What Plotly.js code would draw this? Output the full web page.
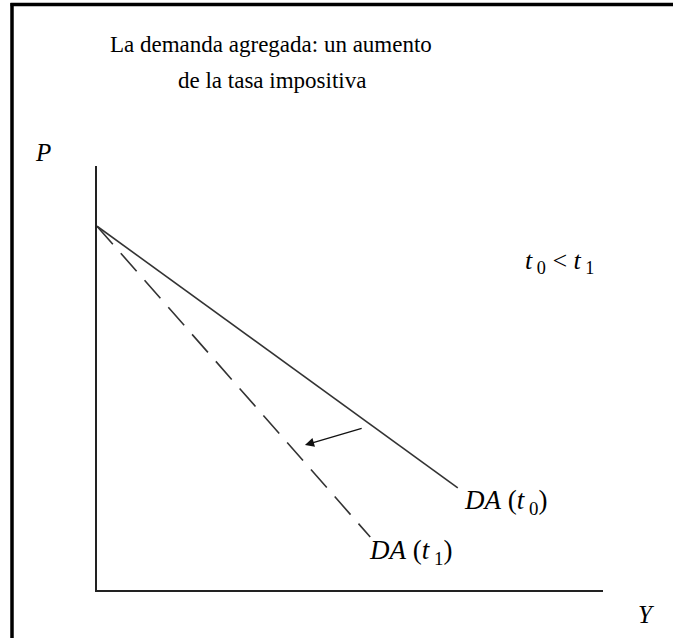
<!DOCTYPE html>
<html>
<head>
<meta charset="utf-8">
<script src="https://cdn.plot.ly/plotly-3.0.1.min.js"></script>
<style>html,body{margin:0;padding:0;background:#fff;}</style>
</head>
<body>
<div id="chart" style="width:673px;height:638px;"></div>
<script>
// Data (units on an arbitrary 0-100 scale)
const solidX = [0, 71.3];
const solidY = [85.8, 24.1];
const dashX = [0, 54.0];
const dashY = [85.8, 12.5];
const arrowTail = [52.6, 38.2];
const arrowHead = [41.1, 34.2];
const labelDA0 = [72.2, 20.8];
const labelDA1 = [53.3, 9.0];
const labelIneq = [91.5, 77.4];
const titleLines = ['La demanda agregada: un aumento', 'de la tasa impositiva'];

const serif = "'Liberation Serif', 'DejaVu Serif', serif";

const traces = [
  {x: solidX, y: solidY, mode: 'lines', line: {color: '#333', width: 1.6}, hoverinfo: 'skip'},
  {x: dashX, y: dashY, mode: 'lines', line: {color: '#333', width: 1.6, dash: '24px,12px'}, hoverinfo: 'skip'}
];

const layout = {
  width: 673, height: 638,
  margin: {l: 97, r: 70, t: 166, b: 48, pad: 0},
  paper_bgcolor: '#fff', plot_bgcolor: '#fff',
  showlegend: false,
  font: {family: serif, color: '#000'},
  xaxis: {range: [0, 100], showgrid: false, zeroline: false, showticklabels: false, ticks: '',
          showline: true, linecolor: '#222', linewidth: 1.6, fixedrange: true},
  yaxis: {range: [0, 100], showgrid: false, zeroline: false, showticklabels: false, ticks: '',
          showline: true, linecolor: '#222', linewidth: 1.6, fixedrange: true},
  shapes: [
    {type: 'line', xref: 'paper', yref: 'paper', x0: (12-97)/506, x1: (12-97)/506, y0: (590-3)/424, y1: (590-700)/424, line: {color: '#000', width: 3.5}},
    {type: 'line', xref: 'paper', yref: 'paper', x0: (10.5-97)/506, x1: (700-97)/506, y0: (590-4.5)/424, y1: (590-4.5)/424, line: {color: '#000', width: 3.5}}
  ],
  annotations: [
    {xref: 'paper', yref: 'paper', x: (271-97)/506, y: (590-44)/424, xanchor: 'center', yanchor: 'middle', showarrow: false,
     text: titleLines[0], font: {family: serif, size: 23, color: '#000'}},
    {xref: 'paper', yref: 'paper', x: (272-97)/506, y: (590-80)/424, xanchor: 'center', yanchor: 'middle', showarrow: false,
     text: titleLines[1], font: {family: serif, size: 23, color: '#000'}},
    {xref: 'paper', yref: 'paper', x: (43-97)/506, y: (590-152)/424, xanchor: 'center', yanchor: 'middle', showarrow: false,
     text: '<i>P</i>', font: {family: serif, size: 25, color: '#000'}},
    {xref: 'paper', yref: 'paper', x: (646-97)/506, y: (590-614)/424, xanchor: 'center', yanchor: 'middle', showarrow: false,
     text: '<i>Y</i>', font: {family: serif, size: 25, color: '#000'}},
    {x: labelIneq[0], y: labelIneq[1], xanchor: 'center', yanchor: 'middle', showarrow: false,
     text: '<i>t</i><sub> 0</sub> &lt; <i>t</i><sub> 1</sub>', font: {family: serif, size: 26, color: '#000'}},
    {x: labelDA0[0], y: labelDA0[1], xanchor: 'left', yanchor: 'middle', showarrow: false,
     text: '<i>DA</i> (<i>t</i><sub> 0</sub>)', font: {family: serif, size: 27, color: '#000'}},
    {x: labelDA1[0], y: labelDA1[1], xanchor: 'left', yanchor: 'middle', showarrow: false,
     text: '<i>DA</i> (<i>t</i><sub> 1</sub>)', font: {family: serif, size: 27, color: '#000'}},
    {x: arrowHead[0], y: arrowHead[1], ax: arrowTail[0], ay: arrowTail[1], axref: 'x', ayref: 'y',
     showarrow: true, arrowhead: 2, arrowsize: 1.4, arrowwidth: 1.3, arrowcolor: '#111', text: ''}
  ]
};

Plotly.newPlot('chart', traces, layout, {staticPlot: true, displayModeBar: false});
</script>
</body>
</html>
